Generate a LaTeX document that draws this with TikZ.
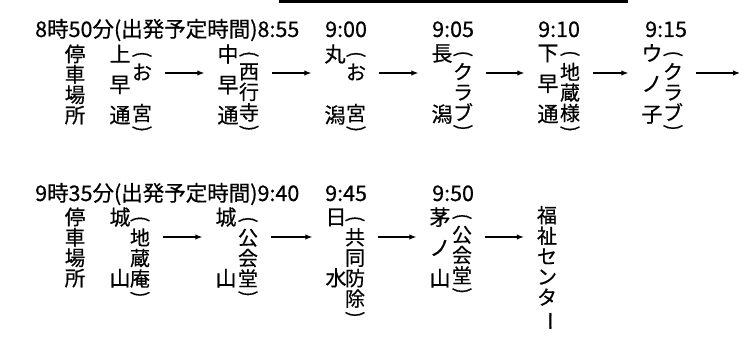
\documentclass[tikz,border=0pt]{standalone}
\usepackage{fontspec}
\usepackage{graphicx}
\usetikzlibrary{positioning,arrows.meta}
\newfontfamily\jpfont[FakeBold=0.5]{Noto Sans CJK JP}
\def\vl{\rotatebox[origin=c]{-90}{(}}
\def\vr{\rotatebox[origin=c]{-90}{)}}
\tikzset{
  timelbl/.style={anchor=base west,inner sep=0pt,font=\jpfont\fontsize{21.5}{21.5}\selectfont},
  standcol/.style={align=center,inner sep=0pt,font=\jpfont\fontsize{20.5}{20.4}\selectfont},
  stopname/.style={align=center,inner sep=0pt,font=\jpfont\fontsize{21}{30.5}\selectfont},
  stopnote/.style={align=center,inner sep=0pt,font=\jpfont\fontsize{20}{20.5}\selectfont},
  vparen/.style={inner sep=0pt,font=\jpfont\fontsize{19}{19}\selectfont},
  leg/.style={line width=1.2pt,-{Latex[length=7pt,width=5.5pt]},shorten <=13pt,shorten >=13pt}
}

\begin{document}
\begin{tikzpicture}[x=1pt,y=-1pt]
\useasboundingbox (0,0) rectangle (750,345);
\fill (279,0) rectangle (628,3);
\coordinate (r1) at (0,73);
\coordinate (r2) at (0,237);
% first run
\node[timelbl] (t1) at (35,37) {8時50分(出発予定時間)8:55};
\node[timelbl] (t2) at (325,37) {9:00};
\node[timelbl] (t3) at (432,37) {9:05};
\node[timelbl] (t4) at (538,37) {9:10};
\node[timelbl] (t5) at (645,37) {9:15};
\node[standcol] (s1) at (75,84.5) {停\\車\\場\\所};
\node[stopname] (n1) at (120,84.5) {上\\早\\通};
\node[stopnote] (p1) at (142,93) {お\\\mbox{}\\宮};
\node[stopname] (n2) at (228,84.5) {中\\早\\通};
\node[stopnote] (p2) at (249,92.5) {西\\行\\寺};
\node[stopname] (n3) at (335,84.5) {丸\\\mbox{}\\潟};
\node[stopnote] (p3) at (356,93) {お\\\mbox{}\\宮};
\node[stopname] (n4) at (442,84) {長\\\mbox{}\\潟};
\node[stopnote] (p4) at (463,92) {ク\\ラ\\ブ};
\node[stopname] (n5) at (548,84) {下\\早\\通};
\node[stopnote] (p5) at (570,92.5) {地\\蔵\\様};
\node[stopname] (n6) at (652,84) {ウ\\ノ\\子};
\node[stopnote] (p6) at (673,92) {ク\\ラ\\ブ};
\coordinate (e1) at (740,73);
% second run
\node[timelbl] (u1) at (35,201) {9時35分(出発予定時間)9:40};
\node[timelbl] (u2) at (325,201) {9:45};
\node[timelbl] (u3) at (432,201) {9:50};
\node[standcol] (s2) at (75,247.5) {停\\車\\場\\所};
\node[stopname] (m1) at (120,247.5) {城\\\mbox{}\\山};
\node[stopnote] (q1) at (140,258) {地\\蔵\\庵};
\node[stopname] (m2) at (226,247.5) {城\\\mbox{}\\山};
\node[stopnote] (q2) at (248,258) {公\\会\\堂};
\node[stopname] (m3) at (336,248) {日\\\mbox{}\\水};
\node[stopnote] (q3) at (355,268) {共\\同\\防\\除};
\node[stopname] (m4) at (440,247.5) {茅\\ノ\\山};
\node[stopnote] (q4) at (462,255) {公\\会\\堂};
\node[stopnote] (fk) at (547,268.5) {福\\祉\\セ\\ン\\タ\\\rotatebox[origin=c]{-90}{ー}};
% parentheses
\foreach \p in {p1,p2,p3,p4,p5,p6,q1,q2,q3,q4} {
  \node[vparen,above=3pt of \p] (\p l) {\vl};
  \node[vparen,below=3pt of \p] (\p r) {\vr};
}
% legs
\draw[leg] (p1.east |- r1) -- (n2.west |- r1);
\draw[leg] (p2.east |- r1) -- (n3.west |- r1);
\draw[leg] (p3.east |- r1) -- (n4.west |- r1);
\draw[leg] (p4.east |- r1) -- (n5.west |- r1);
\draw[leg] (p5.east |- r1) -- (n6.west |- r1);
\draw[leg,shorten >=0pt] (p6.east |- r1) -- (e1);
\draw[leg] (q1.east |- r2) -- (m2.west |- r2);
\draw[leg] (q2.east |- r2) -- (m3.west |- r2);
\draw[leg] (q3.east |- r2) -- (m4.west |- r2);
\draw[leg] (q4.east |- r2) -- (fk.west |- r2);
\end{tikzpicture}
\end{document}
